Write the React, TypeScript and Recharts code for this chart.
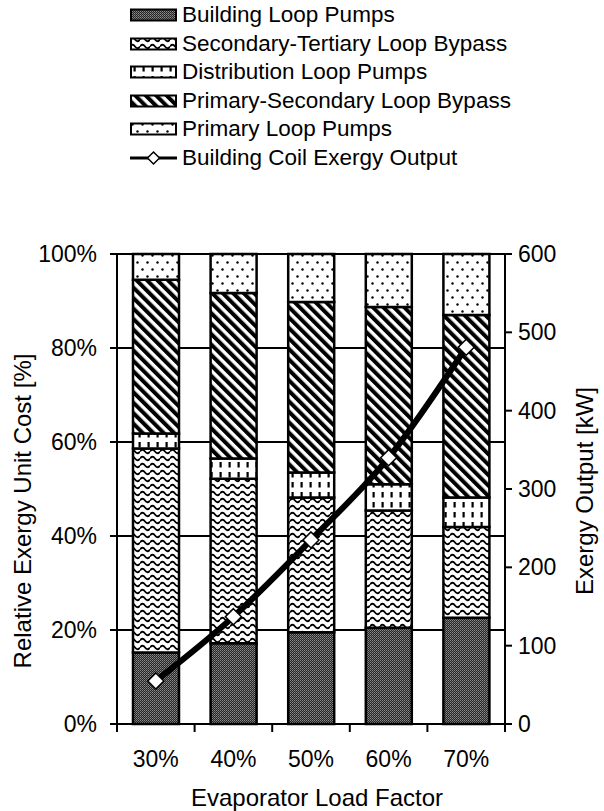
import React from 'react';
import {
  ComposedChart,
  Bar,
  Line,
  XAxis,
  YAxis,
  CartesianGrid,
  Legend,
} from 'recharts';

// 負荷率カテゴリ
const categories = ['30%', '40%', '50%', '60%', '70%'];

// 各構成要素の相対エクセルギー単価 [%]（下から積み上げ）
const buildingLoopPumps = [15.2, 17.2, 19.5, 20.5, 22.6];
const secondaryTertiaryBypass = [43.4, 35.0, 28.7, 24.9, 19.3];
const distributionLoopPumps = [3.2, 4.3, 5.3, 5.6, 6.3];
const primarySecondaryBypass = [32.7, 35.2, 36.3, 37.7, 38.8];
const primaryLoopPumps = [5.5, 8.3, 10.2, 11.3, 13.0];

// 建物コイルのエクセルギー出力 [kW]
const coilExergyOutput = [55, 137, 235, 340, 481];

const leftTicks = [0, 20, 40, 60, 80, 100];
const rightTicks = [0, 100, 200, 300, 400, 500, 600];

const data = categories.map((cat, i) => ({
  cat,
  building: buildingLoopPumps[i],
  secTer: secondaryTertiaryBypass[i],
  dist: distributionLoopPumps[i],
  primSec: primarySecondaryBypass[i],
  primary: primaryLoopPumps[i],
  output: coilExergyOutput[i],
}));

const barSeries = [
  { key: 'building', name: 'Building Loop Pumps', fill: 'url(#patBuilding)' },
  { key: 'secTer', name: 'Secondary-Tertiary Loop Bypass', fill: 'url(#patSecTer)' },
  { key: 'dist', name: 'Distribution Loop Pumps', fill: 'url(#patDist)' },
  { key: 'primSec', name: 'Primary-Secondary Loop Bypass', fill: 'url(#patPrimSec)' },
  { key: 'primary', name: 'Primary Loop Pumps', fill: 'url(#patPrimary)' },
];

const FONT = '"Liberation Sans", Arial, sans-serif';
const W = 604;
const H = 811;
const LEFT_W = 117;
const RIGHT_W = 99;
const PLOT_W = W - LEFT_W - RIGHT_W;
const X_TICK = 8;
const X_MARGIN = 18;

// ハッチング定義
const Patterns = () => (
  <svg width={0} height={0} style={{ position: 'absolute' }}>
    <defs>
      <pattern id="patBuilding" width="2" height="2" patternUnits="userSpaceOnUse">
        <rect width="2" height="2" fill="#262626" />
        <rect x="0" y="0" width="1" height="1" fill="#8c8c8c" />
        <rect x="1" y="1" width="1" height="1" fill="#6a6a6a" />
      </pattern>
      <pattern id="patSecTer" width="10" height="7" patternUnits="userSpaceOnUse">
        <rect width="10" height="7" fill="#fff" />
        <path d="M0 3.5 Q2.5 0 5 3.5 T10 3.5" fill="none" stroke="#000" strokeWidth="1.8" />
      </pattern>
      <pattern id="patDist" width="9" height="10" patternUnits="userSpaceOnUse">
        <rect width="9" height="10" fill="#fff" />
        <rect x="3.5" y="2" width="2.2" height="5.5" fill="#000" />
      </pattern>
      <pattern
        id="patPrimSec"
        width="7.4"
        height="7.4"
        patternUnits="userSpaceOnUse"
        patternTransform="rotate(-45)"
      >
        <rect width="7.4" height="7.4" fill="#fff" />
        <rect x="0" y="0" width="4" height="7.4" fill="#000" />
      </pattern>
      <pattern id="patPrimary" width="10" height="14" patternUnits="userSpaceOnUse">
        <rect width="10" height="14" fill="#fff" />
        <circle cx="2.5" cy="3.5" r="1.2" fill="#000" />
        <circle cx="7.5" cy="10.5" r="1.2" fill="#000" />
      </pattern>
    </defs>
  </svg>
);

// 凡例
const LegendContent = () => (
  <div style={{ fontFamily: FONT, fontSize: 22.5, color: '#000', paddingTop: 1 }}>
    {barSeries.map((s) => (
      <div key={s.key} style={{ display: 'flex', alignItems: 'center', height: 28.5 }}>
        <svg width={50} height={16} style={{ marginRight: 2 }}>
          <rect x={1} y={2.5} width={45} height={11} fill={s.fill} stroke="#000" strokeWidth={2} />
        </svg>
        <span style={{ whiteSpace: 'nowrap' }}>{s.name}</span>
      </div>
    ))}
    <div style={{ display: 'flex', alignItems: 'center', height: 28.5 }}>
      <svg width={50} height={16} style={{ marginRight: 2 }}>
        <line x1={0} y1={8} x2={47} y2={8} stroke="#000" strokeWidth={3} />
        <polygon points="23.5,2 29.5,8 23.5,14 17.5,8" fill="#fff" stroke="#000" strokeWidth={1.5} />
      </svg>
      <span style={{ whiteSpace: 'nowrap' }}>Building Coil Exergy Output</span>
    </div>
  </div>
);

// X軸: ラベルとカテゴリ境界の目盛り
const XTick = (props: any) => {
  const { x, y, payload, index } = props;
  const half = PLOT_W / categories.length / 2;
  const top = y - X_TICK - X_MARGIN;
  return (
    <g>
      <line x1={x - half} y1={top} x2={x - half} y2={top + X_TICK} stroke="#000" strokeWidth={2} />
      {index === categories.length - 1 && (
        <line x1={x + half} y1={top} x2={x + half} y2={top + X_TICK} stroke="#000" strokeWidth={2} />
      )}
      <text x={x} y={y} dy="0.72em" textAnchor="middle" fontSize={23} fontFamily={FONT} fill="#000">
        {payload.value}
      </text>
    </g>
  );
};

const Diamond = (props: any) => {
  const { cx, cy } = props;
  if (cx == null || cy == null) return null;
  const r = 8;
  return (
    <polygon
      points={`${cx},${cy - r} ${cx + r},${cy} ${cx},${cy + r} ${cx - r},${cy}`}
      fill="#fff"
      stroke="#000"
      strokeWidth={1.5}
    />
  );
};

const tickStyle = { fontSize: 23, fontFamily: FONT, fill: '#000' };
const axisLine = { stroke: '#000', strokeWidth: 2 };

export default function App() {
  return (
    <div style={{ position: 'absolute', left: 0, top: 0, width: W, height: H, background: '#fff' }}>
      <Patterns />
      <ComposedChart
        width={W}
        height={H}
        data={data}
        margin={{ top: 74, right: 0, bottom: 0, left: 0 }}
        barCategoryGap={0}
        style={{ fontFamily: FONT }}
      >
        <CartesianGrid yAxisId="left" vertical={false} stroke="#000" strokeWidth={2} />
        <XAxis
          dataKey="cat"
          height={87}
          axisLine={axisLine}
          tickLine={false}
          tickSize={X_TICK}
          tickMargin={X_MARGIN}
          tick={<XTick />}
          interval={0}
          label={{
            value: 'Evaporator Load Factor',
            position: 'center',
            dx: 6,
            dy: 30,
            style: { fontSize: 24, fontFamily: FONT, fill: '#000' },
          }}
        />
        <YAxis
          yAxisId="left"
          width={LEFT_W}
          domain={[0, 100]}
          ticks={leftTicks}
          tickFormatter={(v) => `${v}%`}
          axisLine={axisLine}
          tickLine={axisLine}
          tickSize={7}
          tickMargin={13}
          tick={tickStyle}
          label={{
            value: 'Relative Exergy Unit Cost [%]',
            angle: -90,
            position: 'center',
            dx: -36,
            dy: 22,
            style: { fontSize: 24, fontFamily: FONT, fill: '#000', textAnchor: 'middle' },
          }}
        />
        <YAxis
          yAxisId="right"
          orientation="right"
          width={RIGHT_W}
          domain={[0, 600]}
          ticks={rightTicks}
          axisLine={axisLine}
          tickLine={axisLine}
          tickSize={7}
          tickMargin={6}
          tick={tickStyle}
          label={{
            value: 'Exergy Output [kW]',
            angle: -90,
            position: 'center',
            dx: 30,
            dy: 2,
            style: { fontSize: 24, fontFamily: FONT, fill: '#000', textAnchor: 'middle' },
          }}
        />
        <Legend
          verticalAlign="top"
          content={() => <LegendContent />}
          wrapperStyle={{ top: 0, left: 130, width: 430, height: 180 }}
        />
        {barSeries.map((s) => (
          <Bar
            key={s.key}
            yAxisId="left"
            dataKey={s.key}
            name={s.name}
            stackId="cost"
            barSize={46}
            fill={s.fill}
            stroke="#000"
            strokeWidth={2.5}
            isAnimationActive={false}
          />
        ))}
        <Line
          yAxisId="right"
          type="monotone"
          dataKey="output"
          name="Building Coil Exergy Output"
          stroke="#000"
          strokeWidth={6}
          dot={<Diamond />}
          activeDot={false}
          isAnimationActive={false}
        />
      </ComposedChart>
    </div>
  );
}
